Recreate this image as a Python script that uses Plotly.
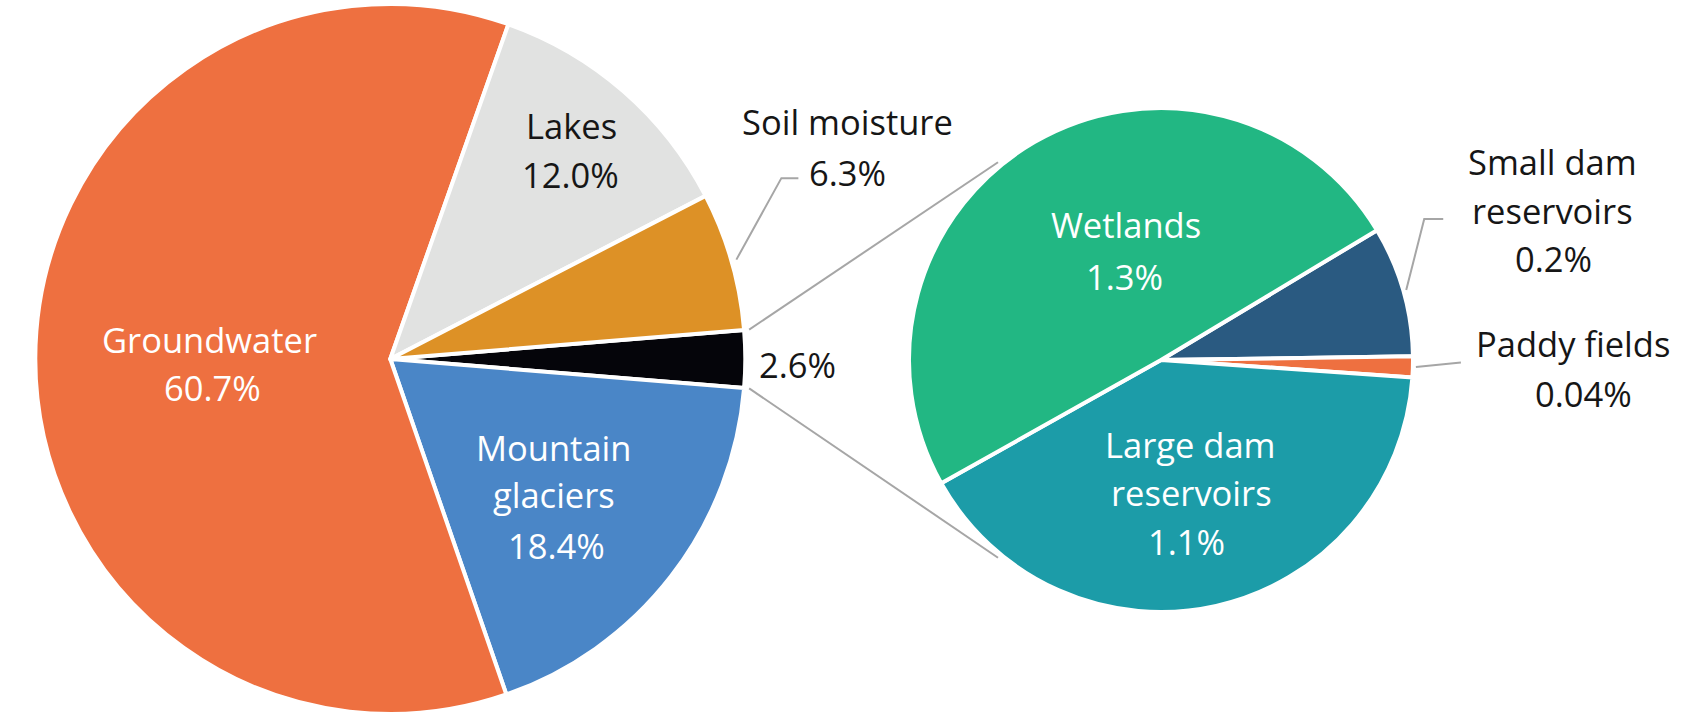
import math
import plotly.graph_objects as go

# ---------------- data ----------------
main_labels = ["Other surface water", "Mountain glaciers", "Groundwater", "Lakes", "Soil moisture"]
main_values = [2.6, 18.4, 60.7, 12.0, 6.3]
main_colors = ["#05050a", "#4a86c7", "#ee7040", "#e1e2e1", "#dd9126"]

sub_labels = ["Small dam reservoirs", "Paddy fields", "Large dam reservoirs", "Wetlands"]
sub_values = [0.22, 0.035, 1.07, 1.30]
sub_colors = ["#2a5a81", "#ee7040", "#1c9ca8", "#22b783"]

main_text = {"Groundwater": "60.7%", "Mountain glaciers": "18.4%", "Lakes": "12.0%",
             "Soil moisture": "6.3%", "Other surface water": "2.6%"}
sub_text = {"Wetlands": "1.3%", "Large dam reservoirs": "1.1%",
            "Small dam reservoirs": "0.2%", "Paddy fields": "0.04%"}

# ---------------- geometry ----------------
W, H = 1703, 719
BORDER = 4
C1 = (390.3, 359.0); R1 = 353.0
C2 = (1161.0, 360.0); R2 = 250.0

tot1 = sum(main_values)
rot1 = 90 - main_values[0] / tot1 * 360 / 2
rot2 = 59.0


def px(x):
    return x / W


def py(y):
    return 1 - y / H


def slice_angles(values, rot):
    t = sum(values)
    out = []
    a = rot
    for v in values:
        b = a + v / t * 360
        out.append((a, b))
        a = b
    return out


def pt(c, r, ang):
    t = math.radians(ang)
    return (c[0] + r * math.sin(t), c[1] - r * math.cos(t))


def domain(c, r):
    r = r + BORDER / 2
    return dict(x=[max(0, px(c[0] - r)), min(1, px(c[0] + r))],
                y=[max(0, py(c[1] + r)), min(1, py(c[1] - r))])


fig = go.Figure()
fig.add_trace(go.Pie(
    labels=main_labels, values=main_values, sort=False, direction="clockwise",
    rotation=rot1, textinfo="none", hoverinfo="label+percent", showlegend=False,
    marker=dict(colors=main_colors, line=dict(color="white", width=BORDER)),
    domain=domain(C1, R1),
))
fig.add_trace(go.Pie(
    labels=sub_labels, values=sub_values, sort=False, direction="clockwise",
    rotation=rot2, textinfo="none", hoverinfo="label", showlegend=False,
    marker=dict(colors=sub_colors, line=dict(color="white", width=BORDER)),
    domain=domain(C2, R2),
))

LINE = dict(color="#a6a6a6", width=2)
shapes = []

ang1 = slice_angles(main_values, rot1)
ang2 = slice_angles(sub_values, rot2)

# zoom connector lines from the 2.6% slice to the detail pie
p_up = pt(C1, R1 * 1.02, ang1[0][0])
p_dn = pt(C1, R1 * 1.02, ang1[0][1])
q_up = pt(C2, R2 * 1.025, 270 + 50.5)
q_dn = pt(C2, R2 * 1.025, 270 - 50.5)
for a, b in [(p_up, q_up), (p_dn, q_dn)]:
    shapes.append(dict(type="line", xref="paper", yref="paper",
                       x0=px(a[0]), y0=py(a[1]), x1=px(b[0]), y1=py(b[1]), line=LINE))


def leader(points):
    d = "M " + " L ".join(f"{px(x)},{py(y)}" for x, y in points)
    shapes.append(dict(type="path", xref="paper", yref="paper", path=d, line=LINE))


# soil moisture leader
s = pt(C1, R1 * 1.02, (ang1[4][0] + ang1[4][1]) / 2)
leader([s, (s[0] + 45, s[1] - 81.5), (s[0] + 62, s[1] - 81.5)])
# small dam leader
s = pt(C2, R2 * 1.02, (ang2[0][0] + ang2[0][1]) / 2)
leader([s, (s[0] + 18, s[1] - 71), (s[0] + 37, s[1] - 71)])
# paddy leader
s = pt(C2, R2 * 1.02, (ang2[1][0] + ang2[1][1]) / 2)
leader([s, (s[0] + 45, s[1] - 4.5)])

FONT = "Open Sans"
FS = 34.5
DARK = "#161616"
annotations = []


def label(x, y, text, color):
    annotations.append(dict(x=px(x), y=py(y), xref="paper", yref="paper", text=text,
                            showarrow=False, xanchor="center", yanchor="middle",
                            font=dict(family=FONT, size=FS, color=color)))


label(209, 339.5, "Groundwater", "white")
label(212.5, 387.5, main_text["Groundwater"], "white")
label(571, 126, "Lakes", DARK)
label(570, 174.5, main_text["Lakes"], DARK)
label(847, 121.5, "Soil moisture", DARK)
label(847, 172, main_text["Soil moisture"], DARK)
label(797.5, 365, main_text["Other surface water"], DARK)
label(553.5, 447, "Mountain", "white")
label(553.5, 494, "glaciers", "white")
label(556, 545, main_text["Mountain glaciers"], "white")
label(1125.5, 224, "Wetlands", "white")
label(1124.5, 276, sub_text["Wetlands"], "white")
label(1190.5, 444.5, "Large dam", "white")
label(1191.5, 492.5, "reservoirs", "white")
label(1186, 541, sub_text["Large dam reservoirs"], "white")
label(1552, 161.5, "Small dam", DARK)
label(1552, 210, "reservoirs", DARK)
label(1553, 258, sub_text["Small dam reservoirs"], DARK)
label(1573, 343.5, "Paddy fields", DARK)
label(1583, 393.5, sub_text["Paddy fields"], DARK)

fig.update_layout(
    width=W, height=H, autosize=False,
    margin=dict(l=0, r=0, t=0, b=0),
    paper_bgcolor="white", plot_bgcolor="white",
    shapes=shapes, annotations=annotations,
)
fig.write_html("out.html", config={"displayModeBar": False},
               post_script="document.body.style.margin='0px';")
